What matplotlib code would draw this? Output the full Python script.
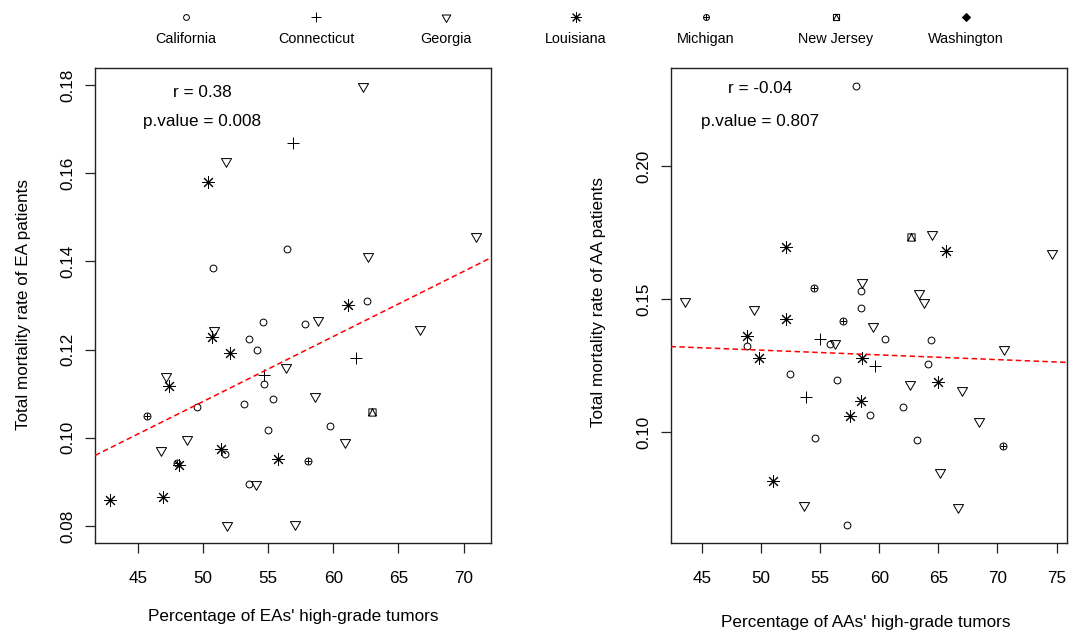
import numpy as np
import matplotlib
matplotlib.use("Agg")
import matplotlib.pyplot as plt
from matplotlib.path import Path

plt.rcParams['font.family'] = ['Liberation Sans', 'DejaVu Sans']

# ---------------- data ----------------
states = ["California", "Connecticut", "Georgia", "Louisiana", "Michigan", "New Jersey", "Washington"]

# Left panel: EA patients
ea_ca_x = [56.41, 50.72, 62.57, 54.57, 57.82, 53.52, 54.11, 54.67, 55.34, 53.15, 49.49, 59.75, 54.95, 51.67, 53.52]
ea_ca_y = [0.1429, 0.1385, 0.1311, 0.1263, 0.1257, 0.1225, 0.1198, 0.1121, 0.1087, 0.1077, 0.1070, 0.1026, 0.1017, 0.0964, 0.0894]
ea_ct_x = [56.88, 61.72, 54.67]
ea_ct_y = [0.1668, 0.1181, 0.1142]
ea_ga_x = [62.31, 51.72, 70.98, 62.69, 58.85, 66.67, 50.82, 56.36, 47.18, 58.59, 48.77, 60.90, 46.80, 54.03, 51.80, 57.05]
ea_ga_y = [0.1799, 0.1629, 0.1457, 0.1412, 0.1266, 0.1247, 0.1245, 0.1160, 0.1140, 0.1094, 0.0998, 0.0990, 0.0971, 0.0894, 0.0801, 0.0805]
ea_la_x = [50.38, 61.15, 50.67, 52.05, 47.36, 51.36, 55.77, 48.15, 42.82, 46.88]
ea_la_y = [0.1581, 0.1302, 0.1228, 0.1193, 0.1118, 0.0975, 0.0951, 0.0937, 0.0859, 0.0866]
ea_mi_x = [45.69, 58.08, 48.00]
ea_mi_y = [0.1049, 0.0947, 0.0942]
ea_nj_x = [62.95]
ea_nj_y = [0.1058]
ea_wa_x = []
ea_wa_y = []

# Right panel: AA patients
aa_ca_x = [58.01, 58.44, 58.44, 60.48, 64.38, 55.81, 48.82, 64.10, 52.47, 56.43, 62.03, 59.26, 54.56, 63.17, 57.28]
aa_ca_y = [0.2302, 0.1530, 0.1466, 0.1349, 0.1346, 0.1333, 0.1322, 0.1256, 0.1218, 0.1197, 0.1094, 0.1065, 0.0977, 0.0969, 0.0650]
aa_ct_x = [54.96, 59.63, 53.77]
aa_ct_y = [0.1349, 0.1250, 0.1131]
aa_ga_x = [64.49, 74.62, 58.58, 63.39, 63.81, 43.58, 49.38, 59.48, 56.23, 70.58, 62.60, 67.04, 68.40, 65.14, 53.63, 66.65]
aa_ga_y = [0.1746, 0.1673, 0.1564, 0.1524, 0.1489, 0.1493, 0.1462, 0.1399, 0.1337, 0.1312, 0.1181, 0.1158, 0.1044, 0.0850, 0.0728, 0.0719]
aa_la_x = [65.65, 52.13, 52.13, 48.79, 49.81, 58.58, 64.95, 58.44, 57.50, 50.99]
aa_la_y = [0.1680, 0.1695, 0.1427, 0.1362, 0.1277, 0.1277, 0.1190, 0.1116, 0.1062, 0.0815]
aa_mi_x = [54.48, 56.94, 70.43]
aa_mi_y = [0.1543, 0.1416, 0.0950]
aa_nj_x = [62.66]
aa_nj_y = [0.1733]
aa_wa_x = []
aa_wa_y = []

ea_stats = ["r = 0.38", "p.value = 0.008"]
aa_stats = ["r = -0.04", "p.value = 0.807"]
ea_xticks = [45, 50, 55, 60, 65, 70]
ea_yticks = [0.08, 0.10, 0.12, 0.14, 0.16, 0.18]
aa_xticks = [45, 50, 55, 60, 65, 70, 75]
aa_yticks = [0.10, 0.15, 0.20]

# ---------------- marker definitions (R pch look-alikes) ----------------
tri_down = Path([(0.866, 0.5), (-0.866, 0.5), (0, -1.0), (0.866, 0.5)],
                [Path.MOVETO, Path.LINETO, Path.LINETO, Path.CLOSEPOLY])
sq_tri = Path([(-1, -1), (1, -1), (1, 1), (-1, 1), (-1, -1), (-1, -1), (0, 1), (1, -1)],
              [Path.MOVETO, Path.LINETO, Path.LINETO, Path.LINETO, Path.CLOSEPOLY,
               Path.MOVETO, Path.LINETO, Path.LINETO])

# each state: list of (marker, size, filled)
state_markers = [
    [("o", 4.9, False)],
    [("+", 8.6, False)],
    [(tri_down, 8.4, False)],
    [((8, 2, 0), 9.0, False)],
    [("o", 5.0, False), ("+", 5.0, False)],
    [(sq_tri, 5.2, False)],
    [("D", 4.6, True)],
]

W, H = 1077, 631
fig = plt.figure(figsize=(W / 100, H / 100), dpi=100)


def rect(x0, y0, x1, y1):
    return [x0 / W, 1 - y1 / H, (x1 - x0) / W, (y1 - y0) / H]


def draw_markers(ax, x, y, idx, scale=1.0, zorder=3):
    if len(x) == 0:
        return
    for m, s, filled in state_markers[idx]:
        ax.plot(x, y, linestyle="none", marker=m, markersize=s * scale,
                markerfacecolor="black" if filled else "none",
                markeredgecolor="black", markeredgewidth=0.72, zorder=zorder)


def panel(ax, xs, ys, stats, xticks, yticks, sx, sy):
    allx = np.concatenate([np.asarray(v, float) for v in xs if len(v)])
    ally = np.concatenate([np.asarray(v, float) for v in ys if len(v)])
    for i, (x, y) in enumerate(zip(xs, ys)):
        draw_markers(ax, x, y, i)
    # R style axis expansion (4%)
    dx = (allx.max() - allx.min()) * 0.04
    dy = (ally.max() - ally.min()) * 0.04
    ax.set_xlim(allx.min() - dx, allx.max() + dx)
    ax.set_ylim(ally.min() - dy, ally.max() + dy)
    coef = np.polyfit(allx, ally, 1)
    lx = np.array(ax.get_xlim())
    ax.plot(lx, np.polyval(coef, lx), color="red", linestyle=(0, (3.6, 2.2)), lw=1.1, zorder=4)
    ax.set_xticks(xticks)
    ax.set_yticks(yticks)
    ax.set_xticklabels([str(t) for t in xticks])
    ax.set_yticklabels(["%.2f" % t for t in yticks], rotation=90, va="center")
    ax.tick_params(direction="out", length=7, width=0.9, labelsize=12.3, color="#222222")
    ax.tick_params(axis="x", pad=13)
    ax.tick_params(axis="y", pad=7)
    for sp in ax.spines.values():
        sp.set_color("#222222")
        sp.set_linewidth(1.0)
    ax.text(sx, sy[0], stats[0], transform=ax.transAxes, ha="center", va="center", fontsize=12.3)
    ax.text(sx, sy[1], stats[1], transform=ax.transAxes, ha="center", va="center", fontsize=12.3)


axL = fig.add_axes(rect(95, 68, 491, 543))
axR = fig.add_axes(rect(670.5, 68, 1066.7, 543))

panel(axL, [ea_ca_x, ea_ct_x, ea_ga_x, ea_la_x, ea_mi_x, ea_nj_x, ea_wa_x],
      [ea_ca_y, ea_ct_y, ea_ga_y, ea_la_y, ea_mi_y, ea_nj_y, ea_wa_y],
      ea_stats, ea_xticks, ea_yticks, 0.270, (0.949, 0.887))
panel(axR, [aa_ca_x, aa_ct_x, aa_ga_x, aa_la_x, aa_mi_x, aa_nj_x, aa_wa_x],
      [aa_ca_y, aa_ct_y, aa_ga_y, aa_la_y, aa_mi_y, aa_nj_y, aa_wa_y],
      aa_stats, aa_xticks, aa_yticks, 0.226, (0.956, 0.887))

# axis titles
fig.text(24 / W, 1 - 305 / H, "Total mortality rate of EA patients", rotation=90,
         ha="center", va="center", fontsize=12.3)
fig.text(599 / W, 1 - 302 / H, "Total mortality rate of AA patients", rotation=90,
         ha="center", va="center", fontsize=12.3)
fig.text(293 / W, 1 - 617 / H, "Percentage of EAs' high-grade tumors",
         ha="center", va="center", fontsize=12.3)
fig.text(866 / W, 1 - 622 / H, "Percentage of AAs' high-grade tumors",
         ha="center", va="center", fontsize=12.3)

# legend across the top
lg = fig.add_axes([0, 0, 1, 1])
lg.set_xlim(0, W)
lg.set_ylim(H, 0)
lg.axis("off")
for i, name in enumerate(states):
    cx = 186 + 130 * i
    draw_markers(lg, [cx], [17], i, scale=0.85)
    lg.text(cx, 39, name, ha="center", va="center", fontsize=10.4)

fig.savefig("out.png", dpi=100)
